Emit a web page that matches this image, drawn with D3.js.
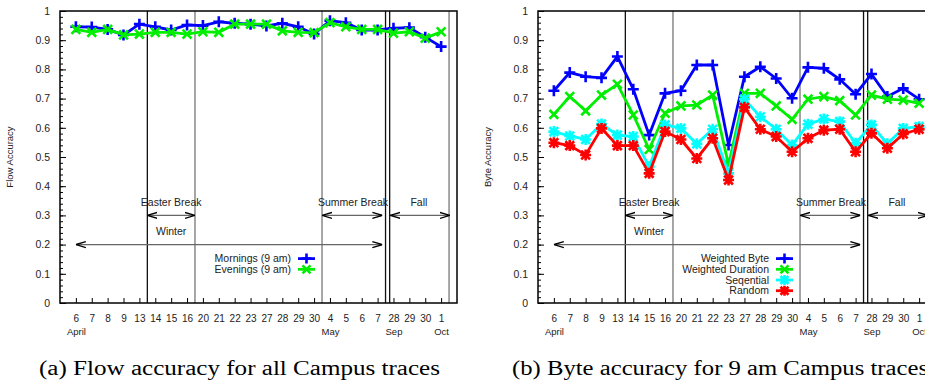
<!DOCTYPE html>
<html>
<head>
<meta charset="utf-8">
<script src="https://cdn.jsdelivr.net/npm/d3@7"></script>
<style>
  body { margin: 0; background: #fff; }
  svg { display: block; font-family: "Liberation Sans", Arial, sans-serif; }
  .caption { font-family: "Liberation Serif", "DejaVu Serif", serif; font-size: 20px; }
</style>
</head>
<body>
<div id="chart"></div>
<script>
// x categories (day of month) and the month names under some of them
const days = ['6','7','8','9','13','14','15','16','20','21','22','23','27','28','29','30','4','5','6','7','28','29','30','1'];
const months = [
  { at: 0, label: 'April' },
  { at: 16, label: 'May' },
  { at: 20, label: 'Sep' },
  { at: 23, label: 'Oct' }
];

// (a) flow accuracy
const mornings = [0.946,0.945,0.937,0.918,0.955,0.946,0.935,0.952,0.950,0.963,0.958,0.955,0.949,0.958,0.946,0.921,0.967,0.960,0.935,0.935,0.941,0.943,0.910,0.878];
const evenings = [0.937,0.927,0.937,0.918,0.921,0.927,0.927,0.921,0.929,0.927,0.955,0.955,0.955,0.932,0.927,0.926,0.960,0.946,0.937,0.937,0.924,0.929,0.907,0.929];

// (b) byte accuracy
const weightedByte = [0.727,0.789,0.775,0.771,0.844,0.732,0.575,0.718,0.727,0.815,0.815,0.541,0.775,0.809,0.769,0.701,0.807,0.804,0.766,0.715,0.784,0.707,0.735,0.698];
const weightedDuration = [0.646,0.707,0.658,0.712,0.749,0.644,0.526,0.650,0.675,0.678,0.712,0.473,0.718,0.718,0.675,0.629,0.698,0.707,0.693,0.644,0.712,0.698,0.695,0.684];
const sequential = [0.587,0.572,0.560,0.613,0.575,0.570,0.467,0.610,0.598,0.545,0.595,0.444,0.698,0.638,0.595,0.541,0.612,0.630,0.621,0.547,0.610,0.545,0.598,0.604];
const random = [0.549,0.539,0.507,0.598,0.539,0.539,0.444,0.587,0.560,0.495,0.564,0.421,0.670,0.595,0.570,0.518,0.564,0.592,0.595,0.518,0.581,0.530,0.579,0.595];

// period separators (in category units) and the labelled spans
const separators = [
  { at: 4.5, color: '#111' },
  { at: 7.5, color: '#777' },
  { at: 15.5, color: '#777' },
  { at: 19.5, color: '#111' },
  { at: 19.76, color: '#111' },
  { at: 23.5, color: '#777' }
];
const spans = [
  { from: 4.5, to: 7.5, y: 0.3, label: 'Easter Break', labelY: 0.333, labelX: 6 },
  { from: 15.5, to: 19.3, y: 0.3, label: 'Summer Break', labelY: 0.333, labelX: 17.45 },
  { from: 19.8, to: 23.55, y: 0.3, label: 'Fall', labelY: 0.333, labelX: 21.6 },
  { from: 0, to: 19.3, y: 0.2, label: 'Winter', labelY: 0.233, labelX: 6 }
];

const captions = [
  { text: '(a) Flow accuracy for all Campus traces', x: 39, width: 401 },
  { text: '(b) Byte accuracy for 9 am Campus traces', x: 512, width: 416 }
];

const W = 925, H = 383;
const plotW = 397, plotH = 292, plotTop = 11;

const svg = d3.select('#chart').append('svg')
  .attr('width', W)
  .attr('height', H);

const defs = svg.append('defs');
defs.append('marker')
  .attr('id', 'head')
  .attr('viewBox', '0 0 10 10')
  .attr('refX', 10).attr('refY', 5)
  .attr('markerUnits', 'userSpaceOnUse')
  .attr('markerWidth', 10).attr('markerHeight', 10)
  .attr('orient', 'auto-start-reverse')
  .append('path')
  .attr('d', 'M0,2 L10,5 L0,8')
  .attr('fill', 'none')
  .attr('stroke', '#000')
  .attr('stroke-width', 1.4);

// marker glyphs like gnuplot point types 1, 2, 3
const glyph = (type, r) => {
  const plus = `M${-r},0H${r}M0,${-r}V${r}`;
  const k = r * 0.8;
  const cross = `M${-k},${-k}L${k},${k}M${-k},${k}L${k},${-k}`;
  if (type === 'plus') return plus;
  if (type === 'cross') return cross;
  return plus + cross;
};

const drawPanel = (left, opts) => {
  const g = svg.append('g').attr('transform', `translate(${left},${plotTop})`);

  const x = d3.scaleLinear().domain([-1, 24]).range([0, plotW]);
  const y = d3.scaleLinear().domain([0, 1]).range([plotH, 0]);

  // minor y ticks
  g.append('g')
    .call(d3.axisLeft(y).tickValues(d3.range(0, 1.001, 0.02)).tickSize(-3).tickFormat(''))
    .call((a) => a.select('.domain').remove())
    .selectAll('line').attr('stroke', '#000');

  // major y ticks
  const yAxis = g.append('g')
    .call(d3.axisLeft(y)
      .tickValues(d3.range(0, 1.001, 0.1))
      .tickSize(-6)
      .tickPadding(10)
      .tickFormat((d) => (d < 0.001 ? '0' : d > 0.999 ? '1' : d.toFixed(1))));
  yAxis.select('.domain').remove();
  yAxis.selectAll('text').attr('font-size', 10.5).attr('fill', '#222');

  // x ticks with day labels and month names below
  const xAxis = g.append('g')
    .attr('transform', `translate(0,${plotH})`)
    .call(d3.axisBottom(x)
      .tickValues(d3.range(days.length))
      .tickSize(-5)
      .tickPadding(12)
      .tickFormat((i) => days[i]));
  xAxis.select('.domain').remove();
  xAxis.selectAll('text').attr('font-size', 10).attr('fill', '#222');
  xAxis.selectAll('.tick')
    .filter((i) => months.some((m) => m.at === i))
    .append('text')
    .attr('y', 25)
    .attr('dy', '0.71em')
    .attr('fill', '#222')
    .attr('font-size', 9.5)
    .attr('text-anchor', 'middle')
    .text((i) => months.find((m) => m.at === i).label);

  // axis title
  g.append('text')
    .attr('transform', `translate(${opts.titleX},${plotH / 2}) rotate(-90)`)
    .attr('text-anchor', 'middle')
    .attr('font-size', 9.5)
    .attr('fill', '#222')
    .text(opts.title);

  // period separators
  g.selectAll('.sep')
    .data(separators)
    .enter()
    .append('line')
    .attr('class', 'sep')
    .attr('x1', (d) => x(d.at)).attr('x2', (d) => x(d.at))
    .attr('y1', y(0)).attr('y2', y(1))
    .attr('stroke', (d) => d.color)
    .attr('stroke-width', 1.3);

  // labelled spans
  g.selectAll('.span')
    .data(spans)
    .enter()
    .append('line')
    .attr('class', 'span')
    .attr('x1', (d) => x(d.from)).attr('x2', (d) => x(d.to))
    .attr('y1', (d) => y(d.y)).attr('y2', (d) => y(d.y))
    .attr('stroke', '#666')
    .attr('stroke-width', 1.4)
    .attr('marker-start', 'url(#head)')
    .attr('marker-end', 'url(#head)');
  g.selectAll('.span-label')
    .data(spans)
    .enter()
    .append('text')
    .attr('class', 'span-label')
    .attr('x', (d) => x(d.labelX))
    .attr('y', (d) => y(d.labelY))
    .attr('text-anchor', 'middle')
    .attr('font-size', 10.5)
    .attr('fill', '#222')
    .text((d) => d.label);

  // series
  const line = d3.line().x((d, i) => x(i)).y((d) => y(d));
  opts.series.forEach((s) => {
    g.append('path')
      .datum(s.values)
      .attr('fill', 'none')
      .attr('stroke', s.color)
      .attr('stroke-width', 2.8)
      .attr('stroke-linejoin', 'miter')
      .attr('d', line);
    g.selectAll(null)
      .data(s.values)
      .enter()
      .append('path')
      .attr('transform', (d, i) => `translate(${x(i)},${y(d)})`)
      .attr('d', glyph(s.glyph, 5.5))
      .attr('stroke', s.color)
      .attr('stroke-width', 2.6)
      .attr('fill', 'none');
  });

  // legend
  const legend = g.append('g').attr('transform', `translate(0,${y(0.152)})`);
  opts.series.forEach((s, k) => {
    const row = legend.append('g').attr('transform', `translate(0,${k * 10.7})`);
    row.append('text')
      .attr('x', 231)
      .attr('dy', '0.35em')
      .attr('text-anchor', 'end')
      .attr('font-size', 10.5)
      .attr('fill', '#222')
      .text(s.name);
    row.append('line')
      .attr('x1', 238).attr('x2', 255)
      .attr('stroke', s.color)
      .attr('stroke-width', 2.8);
    row.append('path')
      .attr('transform', 'translate(246.5,0)')
      .attr('d', glyph(s.glyph, 5))
      .attr('stroke', s.color)
      .attr('stroke-width', 2.6);
  });

  // frame
  g.append('rect')
    .attr('width', plotW)
    .attr('height', plotH)
    .attr('fill', 'none')
    .attr('stroke', '#000')
    .attr('stroke-width', 1.5);
};

drawPanel(60, {
  title: 'Flow Accuracy',
  titleX: -47,
  series: [
    { name: 'Mornings (9 am)', values: mornings, color: '#0000ff', glyph: 'plus' },
    { name: 'Evenings (9 am)', values: evenings, color: '#00ee00', glyph: 'cross' }
  ]
});

drawPanel(538, {
  title: 'Byte Accuracy',
  titleX: -47,
  series: [
    { name: 'Weighted Byte', values: weightedByte, color: '#0000ff', glyph: 'plus' },
    { name: 'Weighted Duration', values: weightedDuration, color: '#00ee00', glyph: 'cross' },
    { name: 'Seqential', values: sequential, color: '#00ffff', glyph: 'star' },
    { name: 'Random', values: random, color: '#ff0000', glyph: 'star' }
  ]
});

// captions under each panel
svg.selectAll('.caption')
  .data(captions)
  .enter()
  .append('text')
  .attr('class', 'caption')
  .attr('x', (d) => d.x)
  .attr('y', 375)
  .attr('textLength', (d) => d.width)
  .attr('lengthAdjust', 'spacingAndGlyphs')
  .text((d) => d.text);
</script>
</body>
</html>
